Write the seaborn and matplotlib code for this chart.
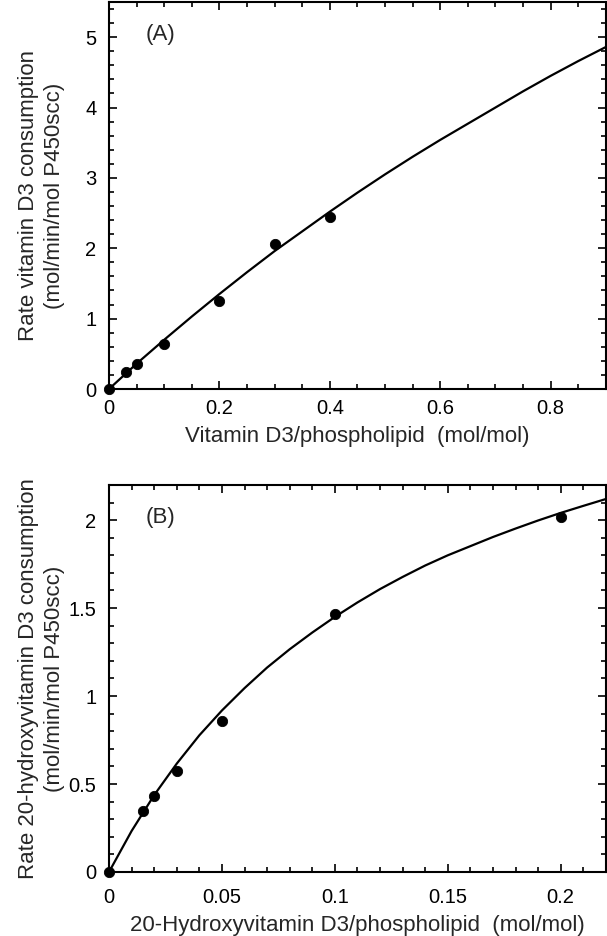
import seaborn as sns
import matplotlib.pyplot as plt
from matplotlib.ticker import MultipleLocator

# panel A: vitamin D3
a_x = [0, 0.03, 0.05, 0.1, 0.2, 0.3, 0.4]
a_y = [0, 0.24, 0.355, 0.64, 1.25, 2.06, 2.44]
a_fit_x = [0, 0.05, 0.1, 0.15, 0.2, 0.25, 0.3, 0.35, 0.4, 0.45,
           0.5, 0.55, 0.6, 0.65, 0.7, 0.75, 0.8, 0.85, 0.9]
a_fit_y = [0, 0.36, 0.70, 1.03, 1.35, 1.66, 1.96, 2.24, 2.52, 2.79,
           3.05, 3.30, 3.54, 3.77, 4.00, 4.23, 4.45, 4.66, 4.86]

# panel B: 20-hydroxyvitamin D3
b_x = [0, 0.015, 0.02, 0.03, 0.05, 0.1, 0.2]
b_y = [0, 0.344, 0.43, 0.575, 0.861, 1.466, 2.02]
b_fit_x = [0, 0.01, 0.02, 0.03, 0.04, 0.05, 0.06, 0.07, 0.08, 0.09, 0.10, 0.11,
           0.12, 0.13, 0.14, 0.15, 0.16, 0.17, 0.18, 0.19, 0.20, 0.21, 0.22]
b_fit_y = [0, 0.233, 0.437, 0.616, 0.777, 0.918, 1.045, 1.162, 1.266, 1.361,
           1.450, 1.532, 1.608, 1.677, 1.742, 1.800, 1.852, 1.904, 1.952,
           1.998, 2.041, 2.081, 2.120]

sns.set_style("ticks")
plt.rcParams['font.family'] = ['Liberation Sans', 'DejaVu Sans']

fig = plt.figure(figsize=(6.07, 9.36), dpi=100)
ax1 = fig.add_axes([0.1796, 0.5844, 0.8185, 0.4135])
ax2 = fig.add_axes([0.1796, 0.0684, 0.8185, 0.4135])

panels = [
    (ax1, a_x, a_y, a_fit_x, a_fit_y, (0, 0.9), (0, 5.5), 0.2, 0.05, 1, 0.2,
     '(A)', 'Vitamin D3/phospholipid  (mol/mol)',
     'Rate vitamin D3 consumption\n(mol/min/mol P450scc)', 7),
    (ax2, b_x, b_y, b_fit_x, b_fit_y, (0, 0.22), (0, 2.2), 0.05, 0.01, 0.5, 0.1,
     '(B)', '20-Hydroxyvitamin D3/phospholipid  (mol/mol)',
     'Rate 20-hydroxyvitamin D3 consumption\n(mol/min/mol P450scc)', 11.5),
]

for ax, px, py, fx, fy, xl, yl, xmaj, xmin, ymaj, ymin, tag, xlab, ylab, xpad in panels:
    sns.lineplot(x=fx, y=fy, color='black', linewidth=1.6, ax=ax)
    sns.scatterplot(x=px, y=py, color='black', s=55, edgecolor='black',
                    zorder=3, clip_on=False, ax=ax)
    ax.set_xlim(*xl)
    ax.set_ylim(*yl)
    ax.xaxis.set_major_locator(MultipleLocator(xmaj))
    ax.xaxis.set_minor_locator(MultipleLocator(xmin))
    ax.yaxis.set_major_locator(MultipleLocator(ymaj))
    ax.yaxis.set_minor_locator(MultipleLocator(ymin))
    ax.xaxis.set_major_formatter(plt.FuncFormatter(lambda v, p: f'{v:g}'))
    ax.yaxis.set_major_formatter(plt.FuncFormatter(lambda v, p: f'{v:g}'))
    ax.tick_params(which='both', direction='in', top=True, right=True,
                   colors='black', width=1.2)
    ax.tick_params(which='major', length=6, labelsize=14.5)
    ax.tick_params(axis='x', which='major', pad=xpad)
    ax.tick_params(axis='y', which='major', pad=9)
    ax.tick_params(which='minor', length=3.6)
    for sp in ax.spines.values():
        sp.set_visible(True)
        sp.set_linewidth(1.5)
        sp.set_color('black')
    ax.set_xlabel(xlab, fontsize=16, labelpad=6)
    ax.set_ylabel(ylab, fontsize=16, linespacing=1.35)
    ax.yaxis.set_label_coords(-0.088, 0.5)
    ax.text(0.074, 0.917, tag, transform=ax.transAxes, fontsize=16,
            ha='left', va='center')

fig.savefig('out.png', dpi=100)
